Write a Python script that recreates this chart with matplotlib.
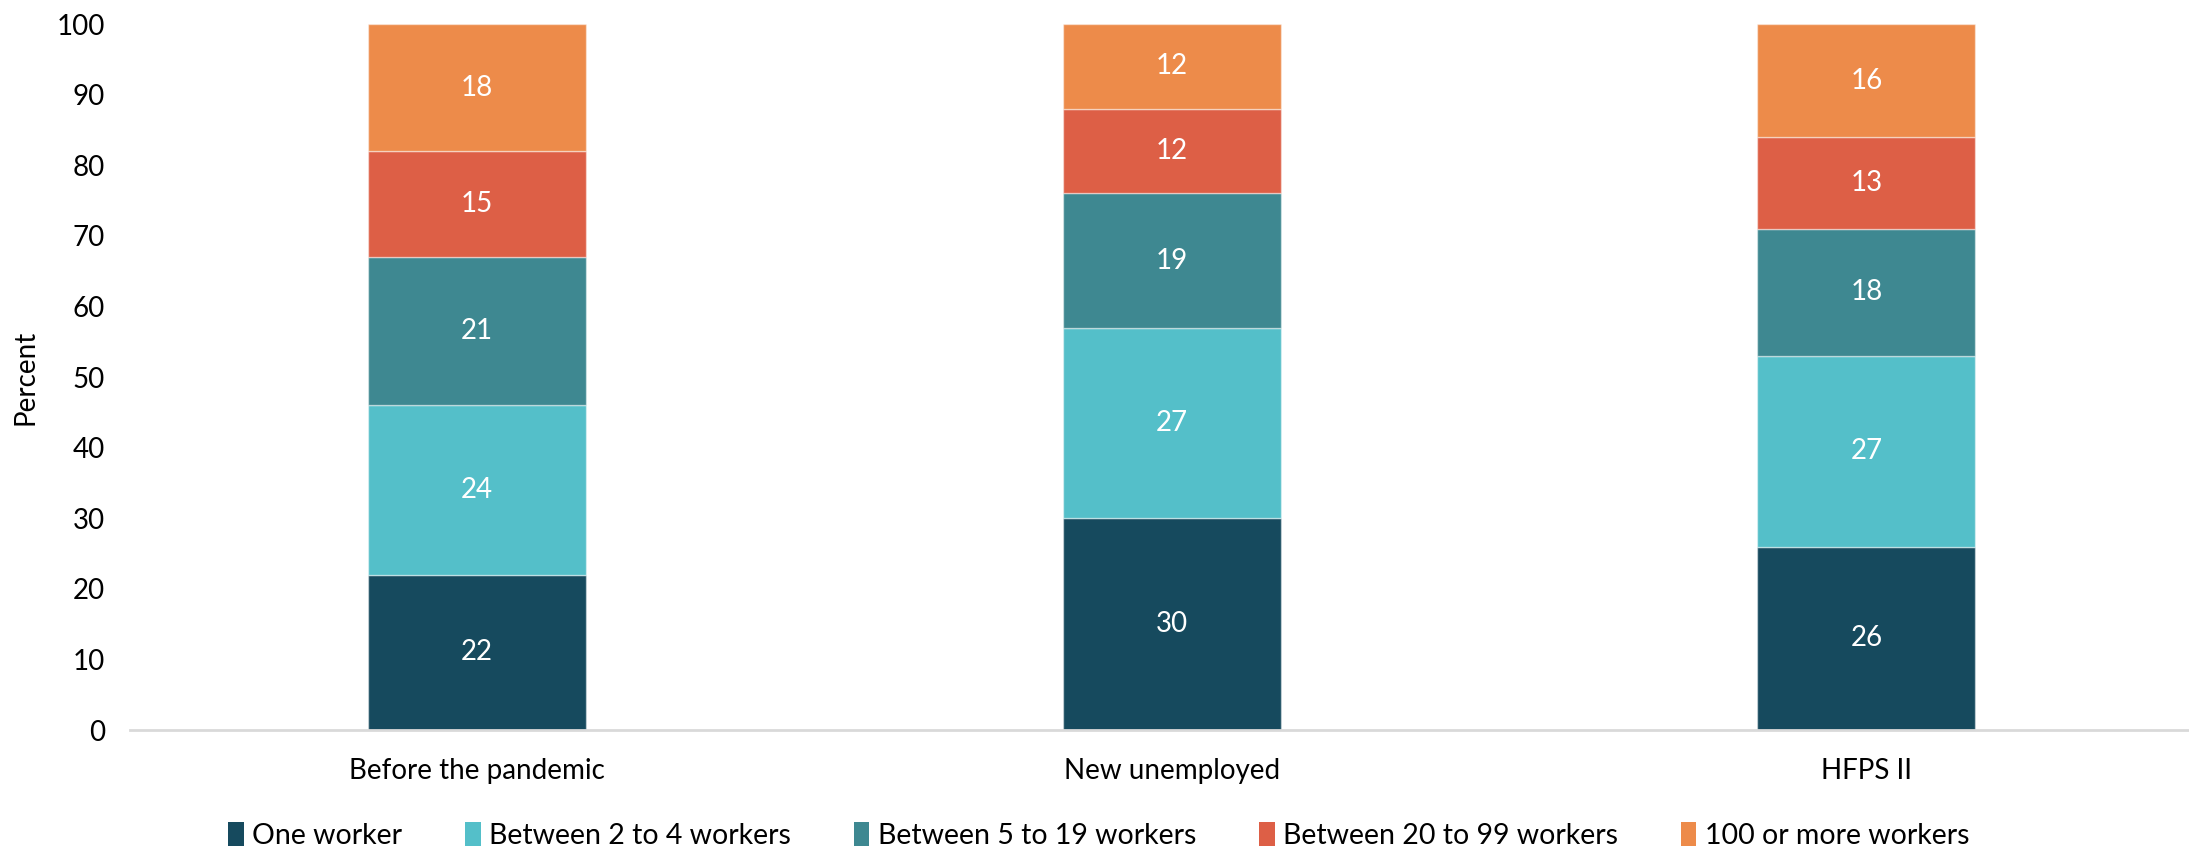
import numpy as np
import matplotlib
matplotlib.use("Agg")
import matplotlib.pyplot as plt

plt.rcParams['font.family'] = ['Lato', 'DejaVu Sans']

# firm size shares, percent of workers
groups = ["Before the pandemic", "New unemployed", "HFPS II"]
series = ["One worker", "Between 2 to 4 workers", "Between 5 to 19 workers",
          "Between 20 to 99 workers", "100 or more workers"]
one_worker = [22, 30, 26]
w2_4 = [24, 27, 27]
w5_19 = [21, 19, 18]
w20_99 = [15, 12, 13]
w100_plus = [18, 12, 16]
colors = ["#164A5E", "#54BFC9", "#3E8891", "#DD5F46", "#ED8B4A"]
yticks = [0, 10, 20, 30, 40, 50, 60, 70, 80, 90, 100]

fig = plt.figure(figsize=(21.89, 8.49), dpi=100)
ax = fig.add_axes([0.0593, 0.140, 0.952, 0.8317])

x = np.arange(len(groups))
bottom = np.zeros(len(groups))
for name, vals, c in zip(series, [one_worker, w2_4, w5_19, w20_99, w100_plus], colors):
    vals = np.array(vals, dtype=float)
    bars = ax.bar(x, vals, 0.314, bottom=bottom, color=c, label=name,
                  edgecolor=(1, 1, 1, 0.45), linewidth=1.0)
    ax.bar_label(bars, labels=[f"{v:.0f}" for v in vals], label_type="center",
                 color="white", fontsize=20)
    bottom += vals

ax.set_xlim(-0.5, 2.5)
ax.set_ylim(0, 100)
ax.set_yticks(yticks)
ax.set_xticks(x)
ax.set_xticklabels(groups)
ax.tick_params(axis="both", length=0, labelsize=20, colors="black")
ax.tick_params(axis="x", pad=20)
ax.tick_params(axis="y", pad=18)
ax.set_ylabel("Percent", fontsize=20)
ax.yaxis.set_label_coords(-0.044, 0.5)

for s in ["top", "right", "left"]:
    ax.spines[s].set_visible(False)
ax.spines["bottom"].set_color("#D9D9D9")
ax.spines["bottom"].set_linewidth(2)

leg = fig.legend(loc="lower center", bbox_to_anchor=(0.502, -0.03), ncol=5,
                 frameon=False, fontsize=20.5, handlelength=0.55, handleheight=0.9,
                 handletextpad=0.3, columnspacing=2.2)
for h in leg.legend_handles:
    h.set_edgecolor("none")

fig.savefig("out.png", dpi=100)
